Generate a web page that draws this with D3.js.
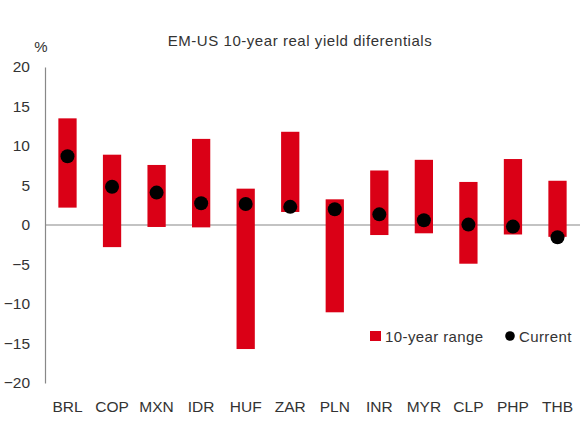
<!DOCTYPE html>
<html><head><meta charset="utf-8">
<script src="https://cdn.jsdelivr.net/npm/d3@7"></script>
<style>
body{margin:0;background:#fff;}
text{font-family:"Liberation Sans",Arial,sans-serif;fill:#333;}
</style></head>
<body><svg id="c" width="586" height="430"></svg>
<script>
const categories=["BRL","COP","MXN","IDR","HUF","ZAR","PLN","INR","MYR","CLP","PHP","THB"];
const rangeHigh=[13.5,8.9,7.6,10.9,4.6,11.8,3.25,6.9,8.25,5.45,8.35,5.6];
const rangeLow=[2.2,-2.8,-0.25,-0.3,-15.7,1.65,-11.05,-1.27,-1.05,-4.9,-1.2,-1.5];
const current=[8.7,4.85,4.1,2.75,2.65,2.3,2.0,1.35,0.6,0.05,-0.2,-1.55];
const yTicks=[20,15,10,5,0,-5,-10,-15,-20];

const svg=d3.select("#c");
const x=d3.scaleBand().domain(categories).range([45,580]).paddingInner(0.59).paddingOuter(0.3);
const y=d3.scaleLinear().domain([-20,20]).range([383,67]);
const red="#da0016";

svg.append("text").attr("x",300).attr("y",46).attr("text-anchor","middle")
  .style("font-size","15px").style("letter-spacing","0.55px").text("EM-US 10-year real yield diferentials");
svg.append("text").attr("x",41).attr("y",52).attr("text-anchor","middle")
  .style("font-size","15px").text("%");

// y axis
const ya=svg.append("g").attr("transform","translate(45,0)")
  .call(d3.axisLeft(y).tickValues(yTicks).tickSize(0).tickPadding(15).tickFormat(d3.format("d")));
ya.select(".domain").attr("stroke","#888").attr("stroke-width",1.2);
ya.selectAll("text").style("font-size","15.5px").attr("fill","#333").style("font-family","Liberation Sans,Arial,sans-serif");

// x labels
const xa=svg.append("g").attr("transform","translate(0,383)")
  .call(d3.axisBottom(x).tickSize(0).tickPadding(18));
xa.select(".domain").remove();
xa.selectAll("text").style("font-size","15.5px").attr("fill","#333").style("font-family","Liberation Sans,Arial,sans-serif");

// zero line
svg.append("line").attr("x1",45).attr("x2",580).attr("y1",y(0)).attr("y2",y(0))
  .attr("stroke","#888").attr("stroke-width",1.2);

// bars
svg.selectAll("rect.bar").data(categories).enter().append("rect").attr("class","bar")
  .attr("x",d=>x(d)).attr("width",x.bandwidth())
  .attr("y",(d,i)=>y(rangeHigh[i])).attr("height",(d,i)=>y(rangeLow[i])-y(rangeHigh[i]))
  .attr("fill",red);

// dots
svg.selectAll("circle.dot").data(categories).enter().append("circle").attr("class","dot")
  .attr("cx",d=>x(d)+x.bandwidth()/2).attr("cy",(d,i)=>y(current[i])).attr("r",7)
  .attr("fill","#000");

// legend
svg.append("rect").attr("x",370).attr("y",331).attr("width",11).attr("height",10).attr("fill",red);
svg.append("text").attr("x",385).attr("y",341.5).style("font-size","15px").style("letter-spacing","0.4px").text("10-year range");
svg.append("circle").attr("cx",510).attr("cy",336).attr("r",4.8).attr("fill","#000");
svg.append("text").attr("x",519).attr("y",341.5).style("font-size","15px").style("letter-spacing","0.4px").text("Current");
</script></body></html>
